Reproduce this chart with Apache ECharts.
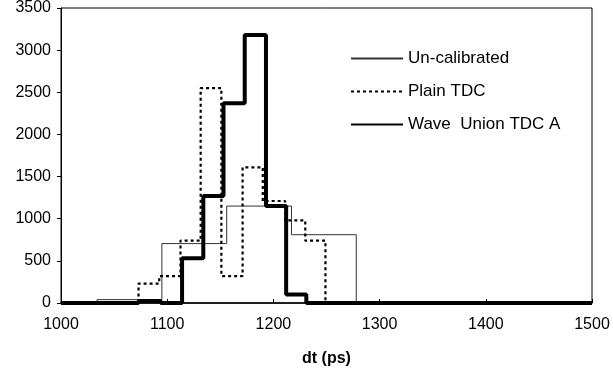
<!DOCTYPE html>
<html>
<head>
<meta charset="utf-8">
<script src="https://cdn.jsdelivr.net/npm/echarts@6/dist/echarts.min.js"></script>
<style>
  html, body { margin: 0; padding: 0; background: #fff; }
  #chart { width: 613px; height: 374px; }
</style>
</head>
<body>
<div id="chart"></div>
<script>
// Histogram bin edges (ps) and counts; counts[i] covers edges[i]..edges[i+1]
const uncalEdges = [1000, 1034, 1095, 1156, 1217, 1278, 1500];
const uncalCounts = [0, 40, 705, 1150, 810, 0];

const plainEdges = [1000, 1073, 1092.5, 1112.5, 1131.5, 1151, 1171, 1190, 1211, 1230, 1249, 1500];
const plainCounts = [0, 230, 320, 740, 2550, 320, 1610, 1210, 980, 740, 0];

const waveEdges = [1000, 1073, 1094, 1114, 1134, 1153, 1173, 1193, 1212, 1231, 1500];
const waveCounts = [0, 25, 0, 530, 1270, 2370, 3180, 1150, 100, 0];

const xTicks = [1000, 1100, 1200, 1300, 1400, 1500];
const yTicks = [0, 500, 1000, 1500, 2000, 2500, 3000, 3500];

const seriesNames = ['Un-calibrated', 'Plain TDC', 'Wave  Union TDC A'];

// Turn edges + counts into step points: each point holds the bin's count
function stepPoints(edges, counts) {
  return edges.map((e, i) => [e, counts[Math.min(i, counts.length - 1)]]);
}

const FONT = 'Liberation Sans, Arial, sans-serif';
const plain = v => String(v);

const chart = echarts.init(document.getElementById('chart'), null, { renderer: 'canvas' });
chart.setOption({
  animation: false,
  backgroundColor: '#fff',
  textStyle: { fontFamily: FONT },
  grid: {
    left: 61, right: 21, top: 8, bottom: 71,
    show: true, borderColor: '#000', borderWidth: 1, backgroundColor: 'transparent'
  },
  legend: {
    orient: 'vertical',
    left: 350, top: 50, padding: 0,
    itemWidth: 52, itemHeight: 14, itemGap: 16,
    itemStyle: { opacity: 0 },
    textStyle: { fontFamily: FONT, fontSize: 17, color: '#000' },
    data: seriesNames
  },
  xAxis: {
    type: 'value',
    min: xTicks[0], max: xTicks[xTicks.length - 1], interval: 100,
    name: 'dt (ps)', nameLocation: 'middle', nameGap: 48,
    nameTextStyle: { fontFamily: FONT, fontSize: 16, fontWeight: 'bold', color: '#000' },
    axisLine: { show: true, lineStyle: { color: '#000', width: 1.5 } },
    axisTick: { show: true, inside: true, length: 4, lineStyle: { color: '#000' } },
    axisLabel: { fontFamily: FONT, fontSize: 16, color: '#000', margin: 14, formatter: plain },
    splitLine: { show: false }
  },
  yAxis: {
    type: 'value',
    min: yTicks[0], max: yTicks[yTicks.length - 1], interval: 500,
    axisLine: { show: true, lineStyle: { color: '#000', width: 1 } },
    axisTick: { show: true, inside: false, length: 4, lineStyle: { color: '#000' } },
    axisLabel: { fontFamily: FONT, fontSize: 16, color: '#000', margin: 10, formatter: plain },
    splitLine: { show: false }
  },
  series: [
    {
      name: seriesNames[0], type: 'line', step: 'end', symbol: 'none',
      lineStyle: { color: '#333', width: 1 }, itemStyle: { color: '#333' },
      data: stepPoints(uncalEdges, uncalCounts), z: 2
    },
    {
      name: seriesNames[1], type: 'line', step: 'end', symbol: 'none',
      lineStyle: { color: '#000', width: 2.2, type: [3, 3] }, itemStyle: { color: '#000' },
      data: stepPoints(plainEdges, plainCounts), z: 3
    },
    {
      name: seriesNames[2], type: 'line', step: 'end', symbol: 'none',
      lineStyle: { color: '#000', width: 4 }, itemStyle: { color: '#000' },
      data: stepPoints(waveEdges, waveCounts), z: 4
    }
  ]
});
</script>
</body>
</html>
